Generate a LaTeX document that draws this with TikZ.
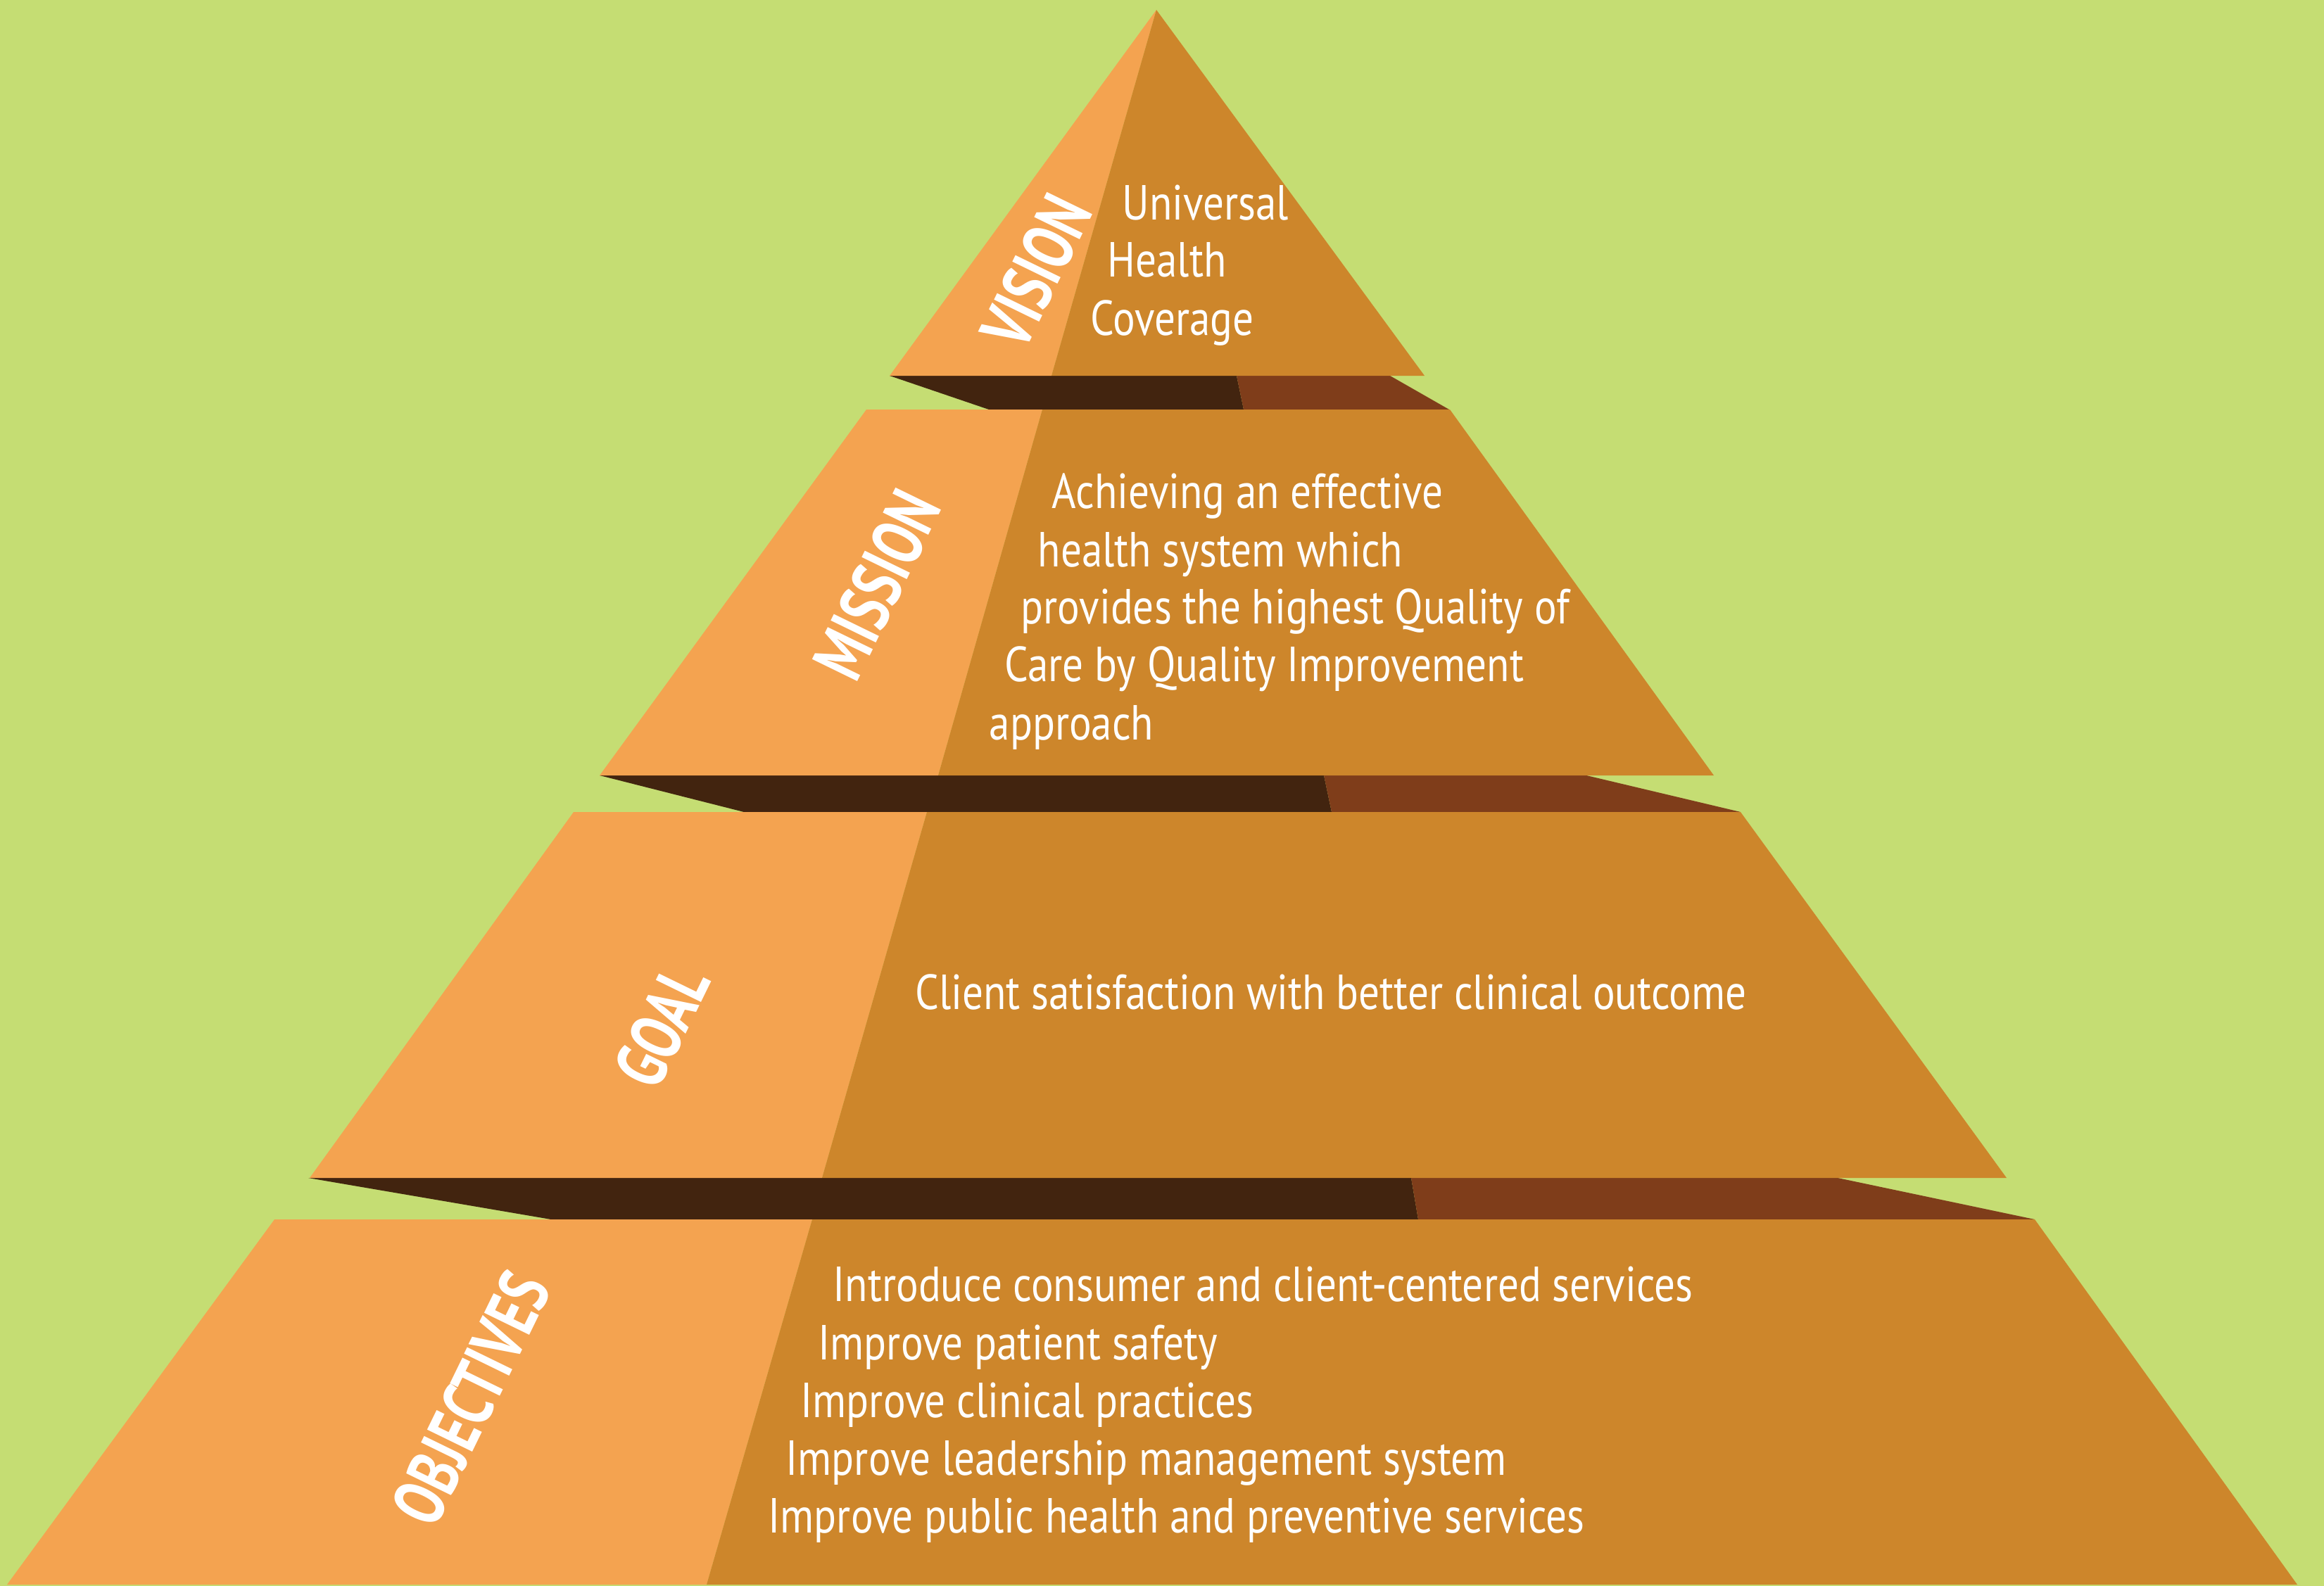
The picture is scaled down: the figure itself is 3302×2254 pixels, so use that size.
\documentclass[tikz,border=0pt]{standalone}
\usepackage{fontspec}
\setmainfont[FakeStretch=0.845]{PT Sans}
\newfontfamily\tierfont[FakeStretch=0.73]{PT Sans}
\definecolor{leaf}{HTML}{C5DD73}
\definecolor{facelight}{HTML}{F4A350}
\definecolor{facedark}{HTML}{CD862B}
\definecolor{shadedark}{HTML}{42240F}
\definecolor{shadebrown}{HTML}{7F3D1A}
\begin{document}
\begin{tikzpicture}[x=0.01cm, y=-0.01cm,
  txt/.style={anchor=base west, inner sep=0pt, text=white,
    font=\fontsize{19.9pt}{23pt}\selectfont},
  tier/.style={inner sep=0pt, text=white, rotate=64,
    font=\tierfont\bfseries\fontsize{29pt}{30pt}\selectfont}]

  % background
  \useasboundingbox (0,0) rectangle (3302,2254);
  \fill[leaf] (0,0) rectangle (3302,2254);

  % shadows under the tiers
  \fill[shadedark]  (1264,534) -- (1757,534) -- (1767,582) -- (1405,582) -- cycle;
  \fill[shadebrown] (1757,534) -- (1975,534) -- (2059,582) -- (1767,582) -- cycle;
  \fill[shadedark]  (852,1102) -- (1881,1102) -- (1892,1154) -- (1057,1154) -- cycle;
  \fill[shadebrown] (1881,1102) -- (2254,1102) -- (2473,1154) -- (1892,1154) -- cycle;
  \fill[shadedark]  (438,1674) -- (2005,1674) -- (2015,1733) -- (783,1733) -- cycle;
  \fill[shadebrown] (2005,1674) -- (2611,1674) -- (2891,1733) -- (2015,1733) -- cycle;

  % faces of the tiers
  \fill[facelight] (1643,14) -- (1494,534) -- (1264,534) -- cycle;
  \fill[facedark]  (1643,14) -- (2024,534) -- (1494,534) -- cycle;
  \fill[facelight] (1231,582) -- (1481,582) -- (1333,1102) -- (852,1102) -- cycle;
  \fill[facedark]  (1481,582) -- (2060,582) -- (2435,1102) -- (1333,1102) -- cycle;
  \fill[facelight] (815,1154) -- (1317,1154) -- (1168,1674) -- (440,1674) -- cycle;
  \fill[facedark]  (1317,1154) -- (2473,1154) -- (2851,1674) -- (1168,1674) -- cycle;
  \fill[facelight] (390,1733) -- (1154,1733) -- (1004,2252) -- (10,2252) -- cycle;
  \fill[facedark]  (1154,1733) -- (2891,1733) -- (3264,2252) -- (1004,2252) -- cycle;

  % names of the tiers
  \node[tier] (vision)     at (1472,386)  {VISION};
  \node[tier] (mission)    at (1246,831)  {MISSION};
  \node[tier] (goal)       at (940,1458)  {GOAL};
  \node[tier] (objectives) at (669,1987)  {OBJECTIVES};

  % vision
  \node[txt] (vis1) at (1594,312) {Universal};
  \node[txt] (vis2) at (1573,393) {Health};
  \node[txt] (vis3) at (1549,476) {Coverage};

  % mission
  \node[txt] (mis1) at (1494,722)  {Achieving an effective};
  \node[txt] (mis2) at (1474,805)  {health system which};
  \node[txt] (mis3) at (1450,886)  {provides the highest Quality of};
  \node[txt] (mis4) at (1427,968)  {Care by Quality Improvement};
  \node[txt] (mis5) at (1405,1051) {approach};

  % goal
  \node[txt] (goal1) at (1300,1434) {Client satisfaction with better clinical outcome};

  % objectives
  \node[txt] (obj1) at (1183,1849) {Introduce consumer and client-centered services};
  \node[txt] (obj2) at (1162,1932) {Improve patient safety};
  \node[txt] (obj3) at (1137,2014) {Improve clinical practices};
  \node[txt] (obj4) at (1116,2096) {Improve leadership management system};
  \node[txt] (obj5) at (1091,2178) {Improve public health and preventive services};

\end{tikzpicture}
\end{document}
